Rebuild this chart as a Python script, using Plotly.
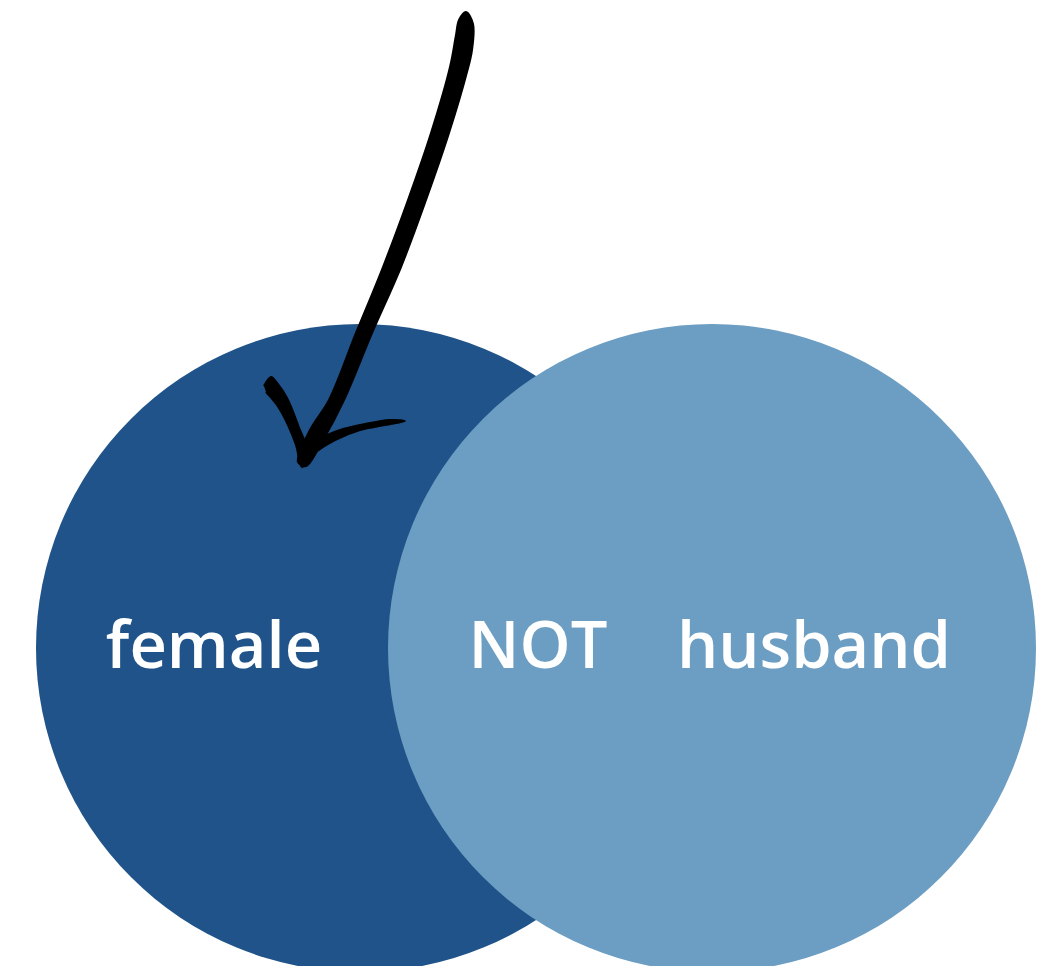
import plotly.graph_objects as go

# Sets in the diagram
set_names = ["female", "husband"]
set_colors = ["#1f5389", "#6c9dc2"]
set_cx = [360, 712]
set_cy = [648, 648]
set_r = [324, 324]

# Labels
label_text = ["female", "NOT", "husband"]
label_x = [214, 538, 814]
label_y = [652, 652, 652]

# Hand-drawn arrow (pixel-like data coordinates, y grows downward)
shaft_x = [466, 473, 472, 467, 449, 426, 401, 372, 344, 323, 306, 298, 310, 329, 356, 383, 408, 431, 450, 456, 459, 466]
shaft_y = [12, 24, 50, 72, 133, 200, 267, 333, 400, 440, 466, 462, 430, 400, 333, 267, 200, 133, 67, 35, 20, 12]
left_arm_x = [264, 271, 277, 287, 298, 309, 302, 296, 288, 277, 266]
left_arm_y = [386, 377, 383, 398, 425, 458, 467, 445, 425, 405, 392]
right_arm_x = [300, 318, 340, 365, 390, 405, 385, 360, 335, 312, 304]
right_arm_y = [456, 440, 430, 424, 420, 421, 425, 430, 440, 455, 464]

fig = go.Figure()

for name, col, cx, cy, r in zip(set_names, set_colors, set_cx, set_cy, set_r):
    fig.add_shape(type="circle", xref="x", yref="y",
                  x0=cx - r, x1=cx + r, y0=cy - r, y1=cy + r,
                  fillcolor=col, line=dict(width=0), layer="below")

for xs, ys in [(shaft_x, shaft_y), (left_arm_x, left_arm_y), (right_arm_x, right_arm_y)]:
    fig.add_trace(go.Scatter(x=xs, y=ys, mode="lines", fill="toself",
                             fillcolor="black", line=dict(color="black", width=2, shape="spline"),
                             hoverinfo="skip", showlegend=False))

fig.add_trace(go.Scatter(x=label_x, y=label_y, mode="text", text=label_text,
                         textposition="middle center",
                         textfont=dict(family="Open Sans", size=65, color="white", weight=600),
                         hoverinfo="skip", showlegend=False))

fig.update_layout(
    width=1054, height=966,
    margin=dict(l=0, r=0, t=0, b=0),
    paper_bgcolor="white", plot_bgcolor="white",
    xaxis=dict(range=[0, 1054], visible=False, fixedrange=True),
    yaxis=dict(range=[966, 0], visible=False, fixedrange=True),
    showlegend=False,
)

fig.write_html("out.html", config={"displayModeBar": False},
               post_script="document.body.style.margin='0';document.body.style.overflow='hidden';")
